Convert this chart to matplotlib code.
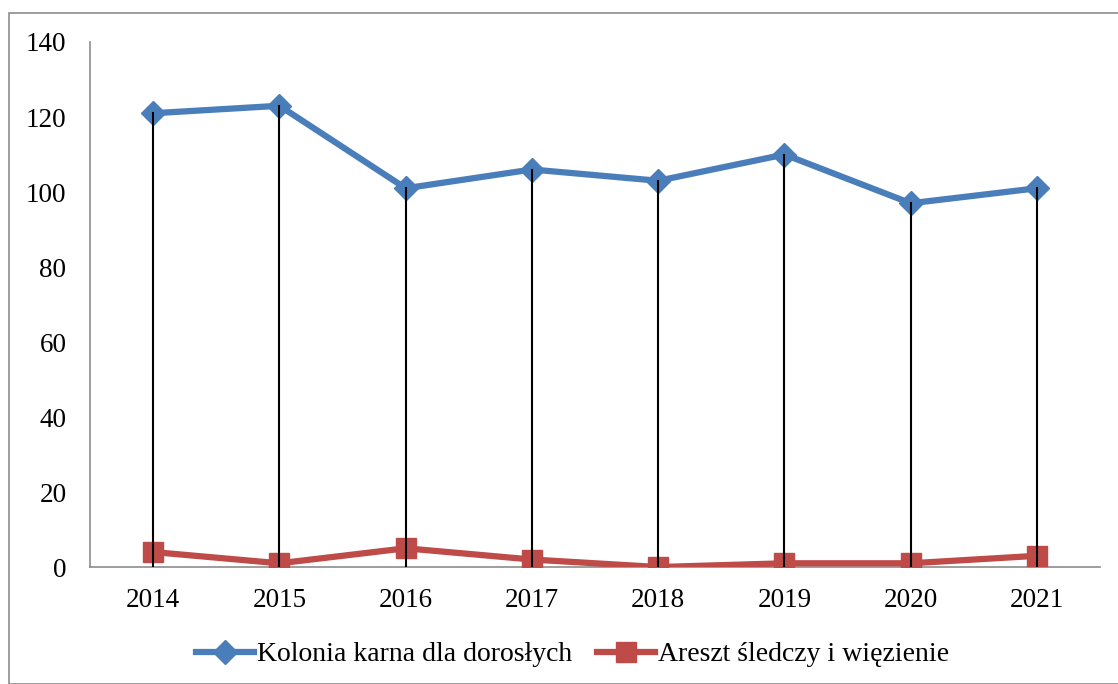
import matplotlib
matplotlib.use("Agg")
import matplotlib.pyplot as plt
from matplotlib.patches import Rectangle

# data
years = ["2014", "2015", "2016", "2017", "2018", "2019", "2020", "2021"]
kolonia = [121, 123, 101, 106, 103, 110, 97, 101]
areszt = [4, 1, 5, 2, 0, 1, 1, 3]
label_kolonia = "Kolonia karna dla dorosłych"
label_areszt = "Areszt śledczy i więzienie"

plt.rcParams['font.family'] = ['Liberation Serif', 'DejaVu Serif']

fig = plt.figure(figsize=(11.18, 6.84), dpi=100)
ax = fig.add_axes([0.0805, 0.171, 0.9035, 0.7676])

x = list(range(len(years)))
blue = '#4a7ebb'
red = '#be4b48'

ax.plot(x, kolonia, color=blue, lw=4.5, marker='D', ms=12, label=label_kolonia, zorder=3)
ax.plot(x, areszt, color=red, lw=4.5, marker='s', ms=14, label=label_areszt, zorder=3)

# drop lines from the highest point down to the axis
for xi, a, b in zip(x, kolonia, areszt):
    ax.plot([xi, xi], [0, max(a, b)], color='black', lw=1.5, zorder=4)

ax.set_xlim(-0.5, len(years) - 0.5)
ax.set_ylim(0, 140)
ax.set_yticks(range(0, 141, 20))
ax.set_xticks(x)
ax.set_xticklabels(years)
ax.tick_params(axis='both', length=0, labelsize=19.5)
ax.tick_params(axis='y', pad=17)
ax.tick_params(axis='x', pad=15)
for s in ['top', 'right']:
    ax.spines[s].set_visible(False)
for s in ['left', 'bottom']:
    ax.spines[s].set_color('#8c8c8c')
    ax.spines[s].set_linewidth(1.2)
ax.spines['bottom'].set_zorder(2)

leg = fig.legend(loc='center', bbox_to_anchor=(0.512, 0.043), ncol=2, frameon=False,
                 fontsize=20, handlelength=2.1, columnspacing=0.9, handletextpad=0.1)

fig.patches.append(Rectangle((9 / 1118, 0), 1.0, 1 - 13 / 684, transform=fig.transFigure,
                             fill=False, edgecolor='#8c8c8c', lw=1.2))

fig.savefig('out.png', dpi=100)
